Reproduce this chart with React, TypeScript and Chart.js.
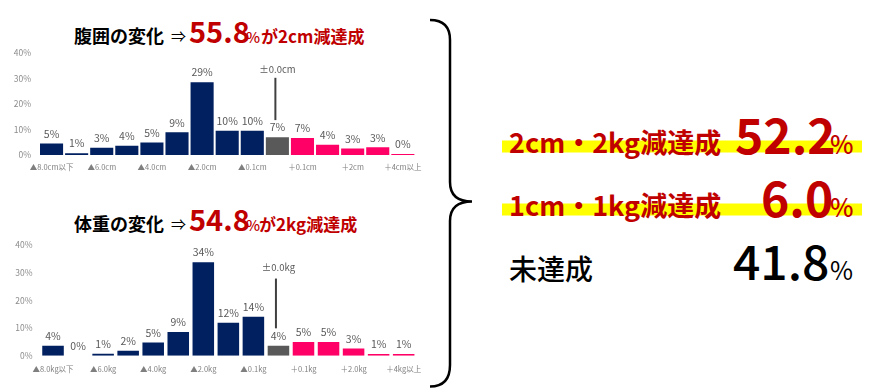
import React, { useEffect, useRef } from 'react';
import { Chart, registerables } from 'chart.js';

Chart.register(...registerables);

const FONT = "'Noto Sans CJK JP', 'Noto Sans', sans-serif";

// ---- data ----
const waistCategories = ['▲8.0cm以下', '', '▲6.0cm', '', '▲4.0cm', '', '▲2.0cm', '', '▲0.1cm', '±0.0cm', '＋0.1cm', '', '＋2cm', '', '＋4cm以上'];
const waistValues = [4.5, 0.7, 2.8, 3.6, 4.9, 8.9, 28.6, 9.5, 9.5, 7.0, 6.7, 4.0, 2.6, 3.0, 0.4];

const weightCategories = ['▲8.0kg以下', '', '▲6.0kg', '', '▲4.0kg', '', '▲2.0kg', '', '▲0.1kg', '±0.0kg', '＋0.1kg', '', '＋2.0kg', '', '＋4kg以上'];
const weightValues = [3.6, 0, 0.7, 1.8, 4.8, 8.6, 33.8, 11.9, 14.1, 3.6, 5.0, 5.0, 2.6, 0.6, 0.6];

const yTickValues = [0, 10, 20, 30, 40];
const zeroIndex = 9;

const NAVY = '#002060';
const GRAY = '#595959';
const PINK = '#ff0066';
const RED = '#c00000';

function barColors(n: number) {
  const c: string[] = [];
  for (let i = 0; i < n; i++) c.push(i < zeroIndex ? NAVY : i === zeroIndex ? GRAY : PINK);
  return c;
}

const valueLabelPlugin = {
  id: 'valueLabels',
  afterDatasetsDraw(chart: any, _args: any, opts: any) {
    const { ctx } = chart;
    const meta = chart.getDatasetMeta(0);
    const data = chart.data.datasets[0].data as number[];
    ctx.save();
    ctx.font = `10.5px ${FONT}`;
    ctx.fillStyle = '#595959';
    ctx.textAlign = 'center';
    ctx.textBaseline = 'bottom';
    meta.data.forEach((el: any, i: number) => {
      ctx.fillText(Math.round(data[i]) + '%', el.x, el.y - 4.5);
    });
    const m = opts.marker;
    if (m) {
      const el = meta.data[zeroIndex];
      const ys = chart.scales.y;
      const x = el.x + m.dx;
      ctx.font = `9.5px ${FONT}`;
      ctx.textBaseline = 'middle';
      ctx.fillText(chart.data.labels[zeroIndex], el.x, ys.getPixelForValue(m.textValue));
      ctx.strokeStyle = '#404040';
      ctx.lineWidth = 2;
      ctx.beginPath();
      ctx.moveTo(x, ys.getPixelForValue(m.lineTop));
      ctx.lineTo(x, ys.getPixelForValue(m.lineBottom));
      ctx.stroke();
    }
    ctx.restore();
  },
};

type BarProps = {
  categories: string[];
  values: number[];
  width: number;
  height: number;
  yAxisWidth: number;
  xAxisHeight: number;
  padTop: number;
  padRight: number;
  barPercentage: number;
  xTickPadding: number;
  marker: { textValue: number; lineTop: number; lineBottom: number; dx: number };
  style: React.CSSProperties;
};

function BarChart(p: BarProps) {
  const ref = useRef<HTMLCanvasElement | null>(null);
  useEffect(() => {
    if (!ref.current) return;
    const chart = new Chart(ref.current, {
      type: 'bar',
      data: {
        labels: p.categories,
        datasets: [
          {
            data: p.values,
            backgroundColor: barColors(p.values.length),
            barPercentage: p.barPercentage,
            categoryPercentage: 1,
            borderWidth: 0,
          },
        ],
      },
      options: {
        animation: false,
        responsive: false,
        maintainAspectRatio: false,
        layout: { padding: { top: p.padTop, right: p.padRight, left: 0, bottom: 0 } },
        plugins: {
          legend: { display: false },
          tooltip: { enabled: false },
          valueLabels: { marker: p.marker },
        } as any,
        scales: {
          x: {
            grid: { display: false, drawTicks: false },
            border: { display: false },
            ticks: {
              autoSkip: false,
              maxRotation: 0,
              minRotation: 0,
              padding: p.xTickPadding,
              color: '#7f7f7f',
              font: { size: 7.5, family: FONT },
              callback: (_v: any, i: number) => (i === zeroIndex ? '' : p.categories[i]),
            },
            afterFit: (a: any) => {
              a.height = p.xAxisHeight;
            },
          },
          y: {
            min: 0,
            max: 40,
            afterBuildTicks: (a: any) => {
              a.ticks = yTickValues.map((v) => ({ value: v }));
            },
            grid: { display: false, drawTicks: false },
            border: { display: false },
            ticks: {
              padding: 8,
              color: '#8c8c8c',
              font: { size: 8.5, family: FONT },
              callback: (v: any) => v + '%',
            },
            afterFit: (a: any) => {
              a.width = p.yAxisWidth;
            },
          },
        },
      },
      plugins: [valueLabelPlugin as any],
    });
    return () => chart.destroy();
  }, []);
  return <canvas ref={ref} width={p.width} height={p.height} style={{ position: 'absolute', width: p.width, height: p.height, ...p.style }} />;
}

export default function App() {
  const bold = { fontFamily: FONT, fontWeight: 700 } as any;
  return (
    <div style={{ position: 'absolute', left: 0, top: 0, width: 872, height: 391, background: '#fff', overflow: 'hidden' }}>
      <svg width={872} height={391} style={{ position: 'absolute', left: 0, top: 0 }}>
        {/* titles */}
        <text x={74} y={42.5} fontSize={18} fill="#000" {...bold}>腹囲の変化</text>
        <text x={171} y={42} fontSize={15} fill="#000" fontFamily={FONT}>⇒</text>
        <text x={189} y={43} fontSize={29} fill={RED} {...bold}>55.8</text>
        <text x={246} y={42.5} fontSize={15} fill={RED} fontFamily={FONT} fontWeight={500}>%</text>
        <text x={261} y={42.5} fontSize={17} fill={RED} {...bold}>が2cm減達成</text>

        <text x={74} y={230.5} fontSize={18} fill="#000" {...bold}>体重の変化</text>
        <text x={171} y={230} fontSize={15} fill="#000" fontFamily={FONT}>⇒</text>
        <text x={189} y={231} fontSize={29} fill={RED} {...bold}>54.8</text>
        <text x={246} y={230.5} fontSize={15} fill={RED} fontFamily={FONT} fontWeight={500}>%</text>
        <text x={259} y={230.5} fontSize={17} fill={RED} {...bold}>が2kg減達成</text>

        {/* brace */}
        <path
          d="M 430 20 C 444 20, 450 27, 450 40 L 450 182 C 450 195, 458 201.5, 472 201.5 C 458 201.5, 450 208, 450 221 L 450 365 C 450 378, 444 386.5, 430 386.5"
          fill="none"
          stroke="#000"
          strokeWidth={2.5}
        />

        {/* highlights */}
        <rect x={502} y={140.5} width={360} height={12} fill="#ffff00" />
        <rect x={502} y={203.5} width={360} height={12} fill="#ffff00" />

        {/* right summary */}
        <text x={509} y={153} fontSize={27} fill={RED} {...bold}>2cm・2kg減達成</text>
        <text x={735} y={153.5} fontSize={48} fill={RED} {...bold}>52.2</text>
        <text x={830} y={153.5} fontSize={25} fill={RED} fontFamily={FONT} fontWeight={500}>%</text>

        <text x={509} y={216} fontSize={27} fill="#000" {...bold} style={{ fill: RED }}>1cm・1kg減達成</text>
        <text x={761} y={216.5} fontSize={48} fill={RED} {...bold}>6.0</text>
        <text x={830} y={216.5} fontSize={25} fill={RED} fontFamily={FONT} fontWeight={500}>%</text>

        <text x={509} y={280} fontSize={28} fill="#000" fontFamily={FONT} fontWeight={500}>未達成</text>
        <text x={733} y={280} fontSize={48} fill="#000" fontFamily={FONT} fontWeight={500}>41.8</text>
        <text x={830} y={280} fontSize={25} fill="#000" fontFamily={FONT} fontWeight={400}>%</text>
      </svg>

      <BarChart
        categories={waistCategories}
        values={waistValues}
        width={430}
        height={140}
        yAxisWidth={39}
        xAxisHeight={25}
        padTop={6.7}
        padRight={13}
        barPercentage={0.92}
        xTickPadding={8}
        marker={{ textValue: 33.6, lineTop: 30.3, lineBottom: 13.7, dx: -2 }}
        style={{ left: 0, top: 40 }}
      />
      <BarChart
        categories={weightCategories}
        values={weightValues}
        width={430}
        height={150}
        yAxisWidth={40.5}
        xAxisHeight={26.3}
        padTop={6.3}
        padRight={10.5}
        barPercentage={0.86}
        xTickPadding={8.5}
        marker={{ textValue: 32.1, lineTop: 27.9, lineBottom: 9.9, dx: -2.5 }}
        style={{ left: 0, top: 232 }}
      />
    </div>
  );
}
